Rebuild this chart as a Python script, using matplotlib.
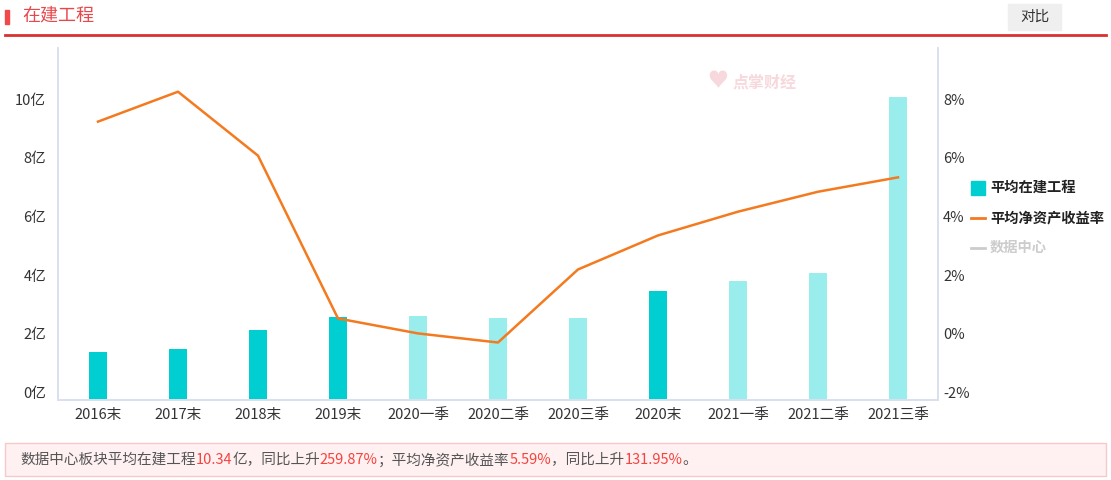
import matplotlib
matplotlib.use("Agg")
import matplotlib.pyplot as plt
from matplotlib.patches import Rectangle
from matplotlib.lines import Line2D
import numpy as np

plt.rcParams['font.family'] = ['Noto Sans CJK SC', 'DejaVu Sans']

# data
categories = ["2016末", "2017末", "2018末", "2019末", "2020一季", "2020二季",
              "2020三季", "2020末", "2021一季", "2021二季", "2021三季"]
construction = [1.65, 1.73, 2.40, 2.84, 2.88, 2.81, 2.81, 3.73, 4.04, 4.34, 10.34]  # 亿
roe = [7.49, 8.51, 6.33, 0.78, 0.27, -0.04, 2.45, 3.61, 4.42, 5.10, 5.59]  # %
annual = [True, True, True, True, False, False, False, True, False, False, False]
left_ticks = [0, 2, 4, 6, 8, 10]
right_ticks = [-2, 0, 2, 4, 6, 8]

dark = "#00CED1"
light = "#9AEDED"
orange = "#F47A1F"
axcol = "#D9E0EF"
txtcol = "#333333"
W, H = 1111, 480

fig = plt.figure(figsize=(W / 100, H / 100), dpi=100)

# header
fig.patches.append(Rectangle((5 / W, 1 - 24 / H), 4 / W, 14 / H, transform=fig.transFigure,
                             color="#F0484B", zorder=3))
fig.text(22 / W, 1 - 16 / H, "在建工程", color="#E8474B", fontsize=13, va="center")
fig.add_artist(Line2D([5 / W, 1106 / W], [1 - 35 / H, 1 - 35 / H], color="#D9312F", lw=2))
fig.patches.append(Rectangle((1008 / W, 1 - 30 / H), 53 / W, 26 / H, transform=fig.transFigure,
                             color="#EFEFEF", zorder=1))
fig.text(1035 / W, 1 - 17 / H, "对比", color=txtcol, fontsize=10.5, va="center", ha="center")

# chart
ax = fig.add_axes([58 / W, 1 - 400 / H, 880 / W, 352 / H])
x = np.arange(len(categories))
cols = [dark if a else light for a in annual]
ax.bar(x, construction, width=0.225, color=cols, zorder=2)
ax.set_xlim(-0.5, len(categories) - 0.5)
ax.set_ylim(0, 12)
ax.set_yticks(left_ticks)
ax.set_yticklabels([])
ax.set_xticks(x)
ax.set_xticklabels(categories)

ax2 = ax.twinx()
ax2.plot(x, roe, color=orange, lw=1.8, zorder=3)
ax2.set_ylim(-2, 10)
ax2.set_yticks(right_ticks)
ax2.set_yticklabels([])

for a in (ax, ax2):
    a.spines["top"].set_visible(False)
    for s in ("left", "right", "bottom"):
        a.spines[s].set_color(axcol)
        a.spines[s].set_linewidth(1.2)
    a.tick_params(length=0, labelsize=10.5, colors=txtcol)
ax.tick_params(axis="x", pad=6)

# y labels sit a few pixels above their ticks, as in the reference
for v in left_ticks:
    ax.annotate(f"{v}亿", xy=(0, v), xycoords=("axes fraction", "data"), xytext=(-12, 6),
                textcoords="offset pixels", ha="right", va="center", fontsize=10.5,
                color=txtcol, annotation_clip=False)
for v in right_ticks:
    ax2.annotate(f"{v}%", xy=(1, v), xycoords=("axes fraction", "data"), xytext=(5, 6),
                 textcoords="offset pixels", ha="left", va="center", fontsize=10.5,
                 color=txtcol, annotation_clip=False)

# watermark
fig.text(765 / W, 1 - 83 / H, "点掌财经", color="#F7D9DD", fontsize=11.5, fontweight="bold",
         va="center", ha="center", zorder=0)
fig.text(718 / W, 1 - 81 / H, "♥", color="#F7D9DD", fontsize=15, va="center", ha="center", zorder=0)

# legend
fig.patches.append(Rectangle((971 / W, 1 - 195 / H), 14 / W, 14 / H, transform=fig.transFigure,
                             color=dark))
fig.text(990 / W, 1 - 188 / H, "平均在建工程", fontsize=10.3, fontweight="bold", color="#222222", va="center")
fig.add_artist(Line2D([971 / W, 985 / W], [1 - 218 / H] * 2, color=orange, lw=2))
fig.text(990 / W, 1 - 218 / H, "平均净资产收益率", fontsize=10.3, fontweight="bold", color="#222222", va="center")
fig.add_artist(Line2D([971 / W, 985 / W], [1 - 248 / H] * 2, color="#CCCCCC", lw=2))
fig.text(990 / W, 1 - 248 / H, "数据中心", fontsize=10.3, fontweight="bold", color="#CCCCCC", va="center")

# bottom summary box
fig.patches.append(Rectangle((5 / W, 1 - 476 / H), 1101 / W, 33 / H, transform=fig.transFigure,
                             facecolor="#FFF1F1", edgecolor="#F6C9C9", lw=1))
parts = [("数据中心板块平均在建工程", "#555555"), ("10.34", "#F5433E"), ("亿，同比上升", "#555555"),
         ("259.87%", "#F5433E"), ("；平均净资产收益率", "#555555"), ("5.59%", "#F5433E"),
         ("，同比上升", "#555555"), ("131.95%", "#F5433E"), ("。", "#555555")]
renderer = fig.canvas.get_renderer()
xpos = 20
for txt, c in parts:
    t = fig.text(xpos / W, 1 - 460 / H, txt, color=c, fontsize=10.5, va="center")
    xpos += t.get_window_extent(renderer).width

fig.savefig("out.png", dpi=100)
